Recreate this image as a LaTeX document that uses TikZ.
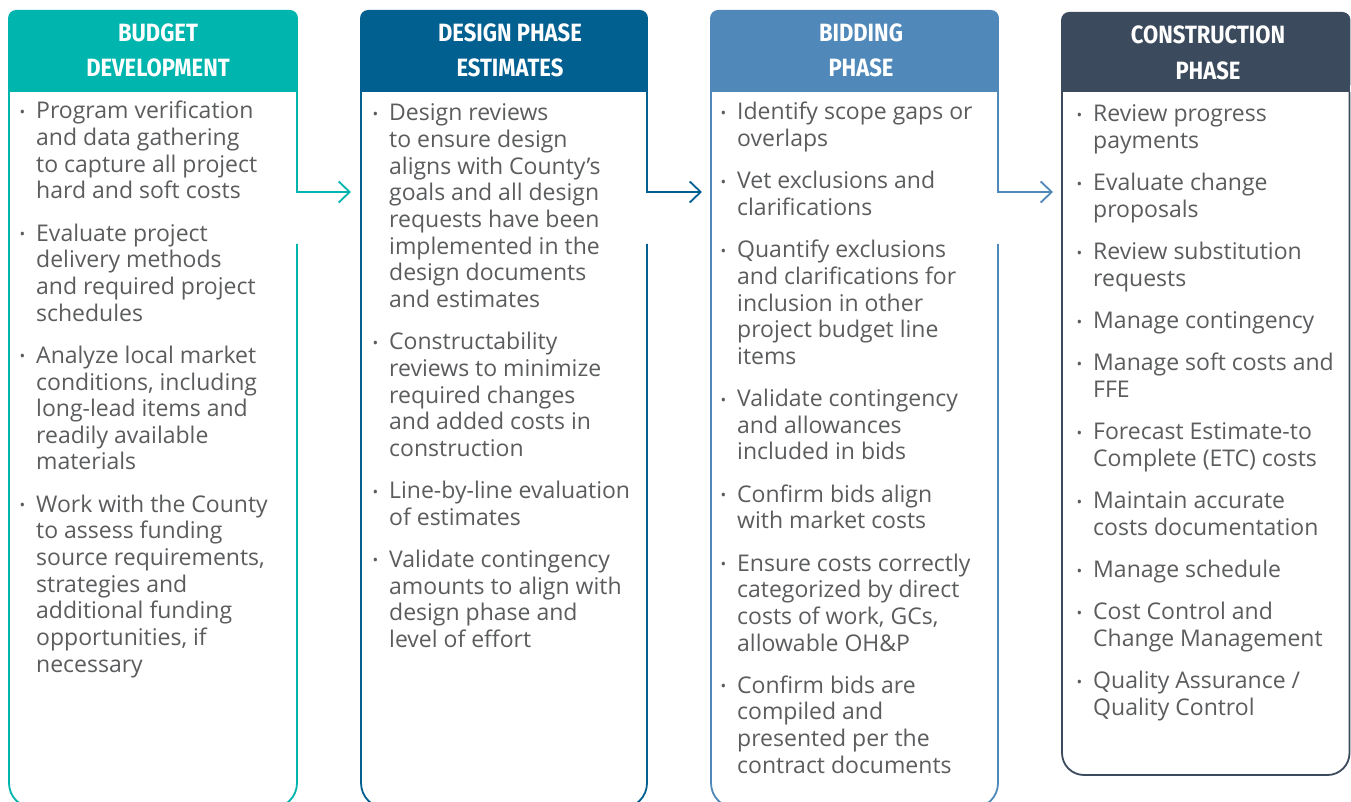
\documentclass[tikz,border=0pt]{standalone}
\usepackage{fontspec}
\setmainfont{Open Sans}
\newfontfamily\headfont[FakeStretch=0.88]{Fira Sans}
\usetikzlibrary{arrows.meta}
\definecolor{cA}{HTML}{00B5AD}
\definecolor{cB}{HTML}{026091}
\definecolor{cC}{HTML}{5089B9}
\definecolor{cD}{HTML}{3B4A5C}
\definecolor{txt}{HTML}{5B5C5E}
\newcommand\bul{\raisebox{1.6pt}{\fontsize{15}{15}\selectfont •}}
\newcommand\bi{\makebox[16pt][l]{\hspace{-0.5pt}\bul}}
\tikzset{
  hdr/.style={inner sep=0pt, anchor=base, text=white, font=\headfont\bfseries\fontsize{25}{35}\selectfont},
  body/.style={inner sep=0pt, anchor=base west, text=txt, font=\fontsize{23}{26.65}\selectfont},
  flow/.style={line width=1.8pt, -{Straight Barb[length=11pt,width=21pt]}},
  frame/.style={line width=1.8pt}
}
\begin{document}
\begin{tikzpicture}[x=1pt,y=-1pt]
\useasboundingbox (0,0) rectangle (1351,802);
\fill[white] (0,0) rectangle (1351,802);

% ---------- column 1 ----------
\draw[frame, cA, rounded corners=25pt] (297,244) -- (297,808) -- (9,808) -- (9,92);
\fill[cA, rounded corners=8pt] (8.1,10) rectangle (297.9,92);
\fill[cA] (8.1,80) rectangle (297.9,92);
\coordinate (a1s) at (297,91);
\coordinate (a1k) at (297,192);
\coordinate (a1e) at (351,192);
\draw[flow, cA] (a1s) -- (a1k) -- (a1e);
\node[hdr] (h1) at (158,41.7) {\begin{tabular}[t]{@{}c@{}}BUDGET\\DEVELOPMENT\end{tabular}};
\node[body] (b1) at (20,119) {\begin{tabular}[t]{@{}l@{}l@{}}
\bi & Program verification\\ & and data gathering\\ & to capture all project\\ & hard and soft costs\\[15.6pt]
\bi & Evaluate project\\ & delivery methods\\ & and required project\\ & schedules\\[15.6pt]
\bi & Analyze local market\\ & conditions, including\\ & long-lead items and\\ & readily available\\ & materials\\[15.6pt]
\bi & Work with the County\\ & to assess funding\\ & source requirements,\\ & strategies and\\ & additional funding\\ & opportunities, if\\ & necessary
\end{tabular}};

% ---------- column 2 ----------
\draw[frame, cB, rounded corners=25pt] (647,244) -- (647,808) -- (361,808) -- (361,92);
\fill[cB, rounded corners=8pt] (360.1,10) rectangle (647.9,92);
\fill[cB] (360.1,80) rectangle (647.9,92);
\coordinate (a2s) at (647,91);
\coordinate (a2k) at (647,192);
\coordinate (a2e) at (702,192);
\draw[flow, cB] (a2s) -- (a2k) -- (a2e);
\node[hdr] (h2) at (510,41.7) {\begin{tabular}[t]{@{}c@{}}DESIGN PHASE\\ESTIMATES\end{tabular}};
\node[body] (b2) at (373,121) {\begin{tabular}[t]{@{}l@{}l@{}}
\bi & Design reviews\\ & to ensure design\\ & aligns with County’s\\ & goals and all design\\ & requests have been\\ & implemented in the\\ & design documents\\ & and estimates\\[15.6pt]
\bi & Constructability\\ & reviews to minimize\\ & required changes\\ & and added costs in\\ & construction\\[15.6pt]
\bi & Line-by-line evaluation\\ & of estimates\\[15.6pt]
\bi & Validate contingency\\ & amounts to align with\\ & design phase and\\ & level of effort
\end{tabular}};

% ---------- column 3 ----------
\draw[frame, cC, rounded corners=25pt] (998,244) -- (998,808) -- (711,808) -- (711,92);
\fill[cC, rounded corners=8pt] (710.1,10) rectangle (998.9,92);
\fill[cC] (710.1,80) rectangle (998.9,92);
\coordinate (a3s) at (998,91);
\coordinate (a3k) at (998,192);
\coordinate (a3e) at (1053,192);
\draw[flow, cC] (a3s) -- (a3k) -- (a3e);
\node[hdr] (h3) at (861,41.7) {\begin{tabular}[t]{@{}c@{}}BIDDING\\PHASE\end{tabular}};
\node[body] (b3) at (721,120) {\begin{tabular}[t]{@{}l@{}l@{}}
\bi & Identify scope gaps or\\ & overlaps\\[15.6pt]
\bi & Vet exclusions and\\ & clarifications\\[15.6pt]
\bi & Quantify exclusions\\ & and clarifications for\\ & inclusion in other\\ & project budget line\\ & items\\[15.6pt]
\bi & Validate contingency\\ & and allowances\\ & included in bids\\[15.6pt]
\bi & Confirm bids align\\ & with market costs\\[15.6pt]
\bi & Ensure costs correctly\\ & categorized by direct\\ & costs of work, GCs,\\ & allowable OH\&P\\[15.6pt]
\bi & Confirm bids are\\ & compiled and\\ & presented per the\\ & contract documents
\end{tabular}};

% ---------- column 4 ----------
\draw[frame, cD, rounded corners=22pt] (1062,92) -- (1062,775) -- (1349.5,775) -- (1349.5,92);
\fill[cD, rounded corners=8pt] (1061.1,12) rectangle (1350.4,92);
\fill[cD] (1061.1,80) rectangle (1350.4,92);
\node[hdr] (h4) at (1208,43.5) {\begin{tabular}[t]{@{}c@{}}CONSTRUCTION\\[1.5pt]PHASE\end{tabular}};
\node[body] (b4) at (1077,122) {\begin{tabular}[t]{@{}l@{}l@{}}
\bi & Review progress\\ & payments\\[15.6pt]
\bi & Evaluate change\\ & proposals\\[15.6pt]
\bi & Review substitution\\ & requests\\[15.6pt]
\bi & Manage contingency\\[15.6pt]
\bi & Manage soft costs and\\ & FFE\\[15.6pt]
\bi & Forecast Estimate-to\\ & Complete (ETC) costs\\[15.6pt]
\bi & Maintain accurate\\ & costs documentation\\[15.6pt]
\bi & Manage schedule\\[15.6pt]
\bi & Cost Control and\\ & Change Management\\[15.6pt]
\bi & Quality Assurance /\\ & Quality Control
\end{tabular}};
\end{tikzpicture}
\end{document}
